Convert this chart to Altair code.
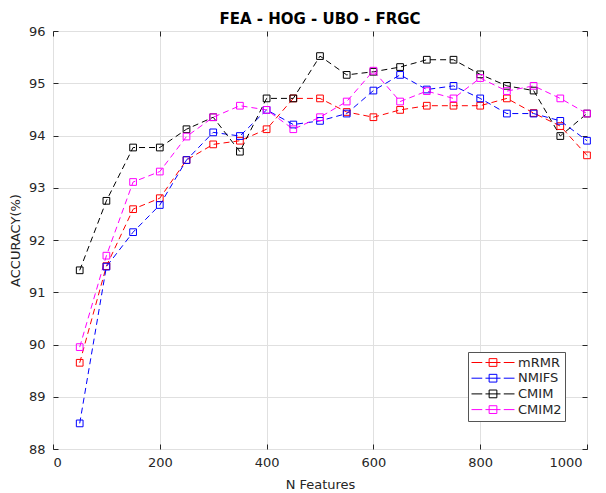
import altair as alt
import pandas as pd

n_features = [50, 100, 150, 200, 250, 300, 350, 400, 450, 500,
              550, 600, 650, 700, 750, 800, 850, 900, 950, 1000]
mrmr = [89.65, 91.50, 92.59, 92.80, 93.53, 93.83, 93.90, 94.12, 94.71, 94.71,
        94.45, 94.35, 94.49, 94.57, 94.57, 94.57, 94.71, 94.43, 94.18, 93.62]
nmifs = [88.49, 91.49, 92.15, 92.67, 93.53, 94.06, 93.99, 94.49, 94.21, 94.28,
         94.42, 94.86, 95.16, 94.88, 94.95, 94.71, 94.42, 94.42, 94.28, 93.90]
cmim = [91.42, 92.75, 93.77, 93.77, 94.12, 94.35, 93.69, 94.71, 94.71, 95.52,
        95.16, 95.22, 95.31, 95.45, 95.45, 95.17, 94.95, 94.86, 93.99, 94.42]
cmim2 = [89.95, 91.70, 93.11, 93.31, 93.98, 94.35, 94.57, 94.49, 94.12, 94.35,
         94.65, 95.24, 94.65, 94.85, 94.71, 95.10, 94.85, 94.95, 94.71, 94.42]

methods = ["mRMR", "NMIFS", "CMIM", "CMIM2"]
colors = ["#ff0000", "#0000ff", "#000000", "#ff00ff"]
x_ticks = [0, 200, 400, 600, 800, 1000]
y_ticks = [88, 89, 90, 91, 92, 93, 94, 95, 96]

rows = []
for m, vals in zip(methods, [mrmr, nmifs, cmim, cmim2]):
    for i, (n, v) in enumerate(zip(n_features, vals)):
        rows.append({"method": m, "n": n, "acc": v, "order": i})
df = pd.DataFrame(rows)

FONT = "DejaVu Sans"
TXT = "#262626"

x_scale = alt.Scale(domain=[0, 1000], nice=False)
y_scale = alt.Scale(domain=[88, 96], nice=False, zero=False)

legend_symbol = "M-1,0H-0.5M-0.35,0H0.35M0.5,0H1M-0.18,-0.18H0.18V0.18H-0.18Z"

color = alt.Color(
    "method:N",
    sort=methods,
    scale=alt.Scale(domain=methods, range=colors),
    legend=alt.Legend(
        title=None, orient="none", legendX=415, legendY=321,
        symbolType=legend_symbol, symbolSize=1849, symbolStrokeWidth=1,
        symbolFillColor="transparent", clipHeight=15,
        labelFont=FONT, labelFontSize=13, labelColor=TXT, labelOffset=3,
        fillColor="white", strokeColor="#555555", padding=3, rowPadding=0.7,
    ),
)

main_x = alt.Axis(values=x_ticks, title="N Features", grid=True, ticks=False, domain=False,
                  labelPadding=7, titlePadding=9, format="d",
                  labelOffset=alt.condition("datum.value == 1000", alt.value(-5), alt.value(0)))
main_y = alt.Axis(values=y_ticks, title="ACCURACY(%)", grid=True, ticks=False, domain=False,
                  labelPadding=8, titlePadding=6, format="d")

tick_common = dict(grid=False, labels=False, domain=False, title=None, tickSize=5,
                   tickColor=TXT, tickWidth=1, offset=-5)

lines = alt.Chart(df).mark_line(strokeDash=[6, 4], strokeWidth=1).encode(
    x=alt.X("n:Q", scale=x_scale, axis=main_x),
    y=alt.Y("acc:Q", scale=y_scale, axis=main_y),
    color=color,
    order="order:Q",
)

points = alt.Chart(df).mark_point(shape="square", filled=False, size=45, strokeWidth=1, opacity=1).encode(
    x=alt.X("n:Q", scale=x_scale, axis=alt.Axis(values=x_ticks, orient="bottom", **tick_common)),
    y=alt.Y("acc:Q", scale=y_scale, axis=alt.Axis(values=y_ticks, orient="left", **tick_common)),
    color=color,
)

ghost = alt.Chart(df).mark_point(opacity=0).encode(
    x=alt.X("n:Q", scale=x_scale, axis=alt.Axis(values=x_ticks, orient="top", **tick_common)),
    y=alt.Y("acc:Q", scale=y_scale, axis=alt.Axis(values=y_ticks, orient="right", **tick_common)),
)

chart = alt.layer(lines, points, ghost).resolve_axis(
    x="independent", y="independent"
).properties(
    width=534, height=418,
    title=alt.TitleParams("FEA - HOG - UBO - FRGC", font=FONT, fontSize=15, fontWeight="bold",
                          color="#000000", anchor="middle", offset=6, dy=8),
    autosize=alt.AutoSizeParams(type="none"),
    padding={"left": 45, "top": 23, "right": 11, "bottom": 50},
).configure_view(
    stroke=TXT, strokeWidth=1
).configure_axis(
    labelFont=FONT, labelFontSize=13, labelColor=TXT,
    titleFont=FONT, titleFontSize=13, titleColor=TXT, titleFontWeight="normal",
    gridColor="#e0e0e0", gridWidth=1,
)

chart.save("out.html", embed_options={"renderer": "svg", "actions": False})
